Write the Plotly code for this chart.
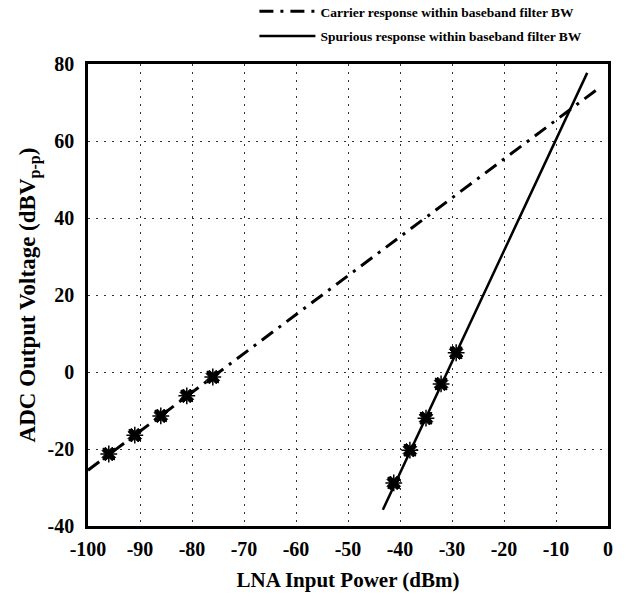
import plotly.graph_objects as go

# carrier response (dash-dot) and spurious response (solid)
carrier_x = [-100, -2]
carrier_y = [-25.5, 73.5]
carrier_pts_x = [-96, -91, -86, -81, -76]
carrier_pts_y = [-21.3, -16.4, -11.4, -6.2, -1.3]

spur_x = [-43.3, -4.0]
spur_y = [-35.8, 77.7]
spur_pts_x = [-41.2, -38.1, -35.0, -32.1, -29.2]
spur_pts_y = [-28.8, -20.3, -12.0, -3.1, 5.0]

x_ticks = [-100, -90, -80, -70, -60, -50, -40, -30, -20, -10, 0]
x_labels = ["-100", "-90", "-80", "-70", "-60", "-50", "-40", "-30", "-20", "-10", "0"]
y_ticks = [-40, -20, 0, 20, 40, 60, 80]
y_labels = ["-40", "-20", "0", "20", "40", "60", "80"]

serif = "Liberation Serif, Times New Roman, serif"

fig = go.Figure()
fig.add_trace(go.Scatter(x=carrier_x, y=carrier_y, mode="lines", legendgroup="a",
                         line=dict(color="black", width=3, dash="14px,7px,3px,7px"),
                         name="Carrier response within baseband filter BW"))
fig.add_trace(go.Scatter(x=spur_x, y=spur_y, mode="lines", legendgroup="b",
                         line=dict(color="black", width=2.5),
                         name="Spurious response within baseband filter BW"))
fig.add_trace(go.Scatter(x=carrier_pts_x + spur_pts_x, y=carrier_pts_y + spur_pts_y,
                         mode="markers", showlegend=False,
                         marker=dict(symbol="x", size=12, color="black",
                                     line=dict(color="black", width=1))))
fig.add_trace(go.Scatter(x=carrier_pts_x + spur_pts_x, y=carrier_pts_y + spur_pts_y,
                         mode="markers", showlegend=False,
                         marker=dict(symbol="asterisk-open", size=14, color="black",
                                     line=dict(color="black", width=1.5))))

fig.update_xaxes(range=[-100, 0], tickvals=x_ticks, ticktext=x_labels, ticks="",
                 showline=True, linecolor="black", linewidth=2.5, mirror=True,
                 showgrid=True, gridcolor="#333", griddash="2px,6px", gridwidth=1,
                 zeroline=False, automargin=False, ticklabelstandoff=3,
                 tickfont=dict(family=serif, size=20, color="black", weight="bold"),
                 title=dict(text="LNA Input Power (dBm)", standoff=14,
                            font=dict(family=serif, size=21, color="black", weight="bold")))
fig.update_yaxes(range=[-40, 80], tickvals=y_ticks, ticktext=y_labels, ticks="",
                 showline=True, linecolor="black", linewidth=2.5, mirror=True,
                 showgrid=True, gridcolor="#333", griddash="2px,6px", gridwidth=1,
                 zeroline=False, automargin=False, ticklabelstandoff=7,
                 tickfont=dict(family=serif, size=20, color="black", weight="bold"),
                 title=dict(text="ADC Output Voltage (dBV<sub>p-p</sub>)", standoff=6,
                            font=dict(family=serif, size=23, color="black", weight="bold")))

fig.update_layout(
    width=628, height=596,
    margin=dict(l=88, r=20, t=64, b=70, autoexpand=False),
    plot_bgcolor="white", paper_bgcolor="white",
    legend=dict(x=0.32, y=1.147, xanchor="left", yanchor="top",
                bgcolor="rgba(0,0,0,0)", tracegroupgap=4, itemwidth=56,
                font=dict(family=serif, size=13.5, color="black", weight="bold")),
)

fig.write_html("out.html", config={"displayModeBar": False},
               post_script="document.body.style.margin='0';")
